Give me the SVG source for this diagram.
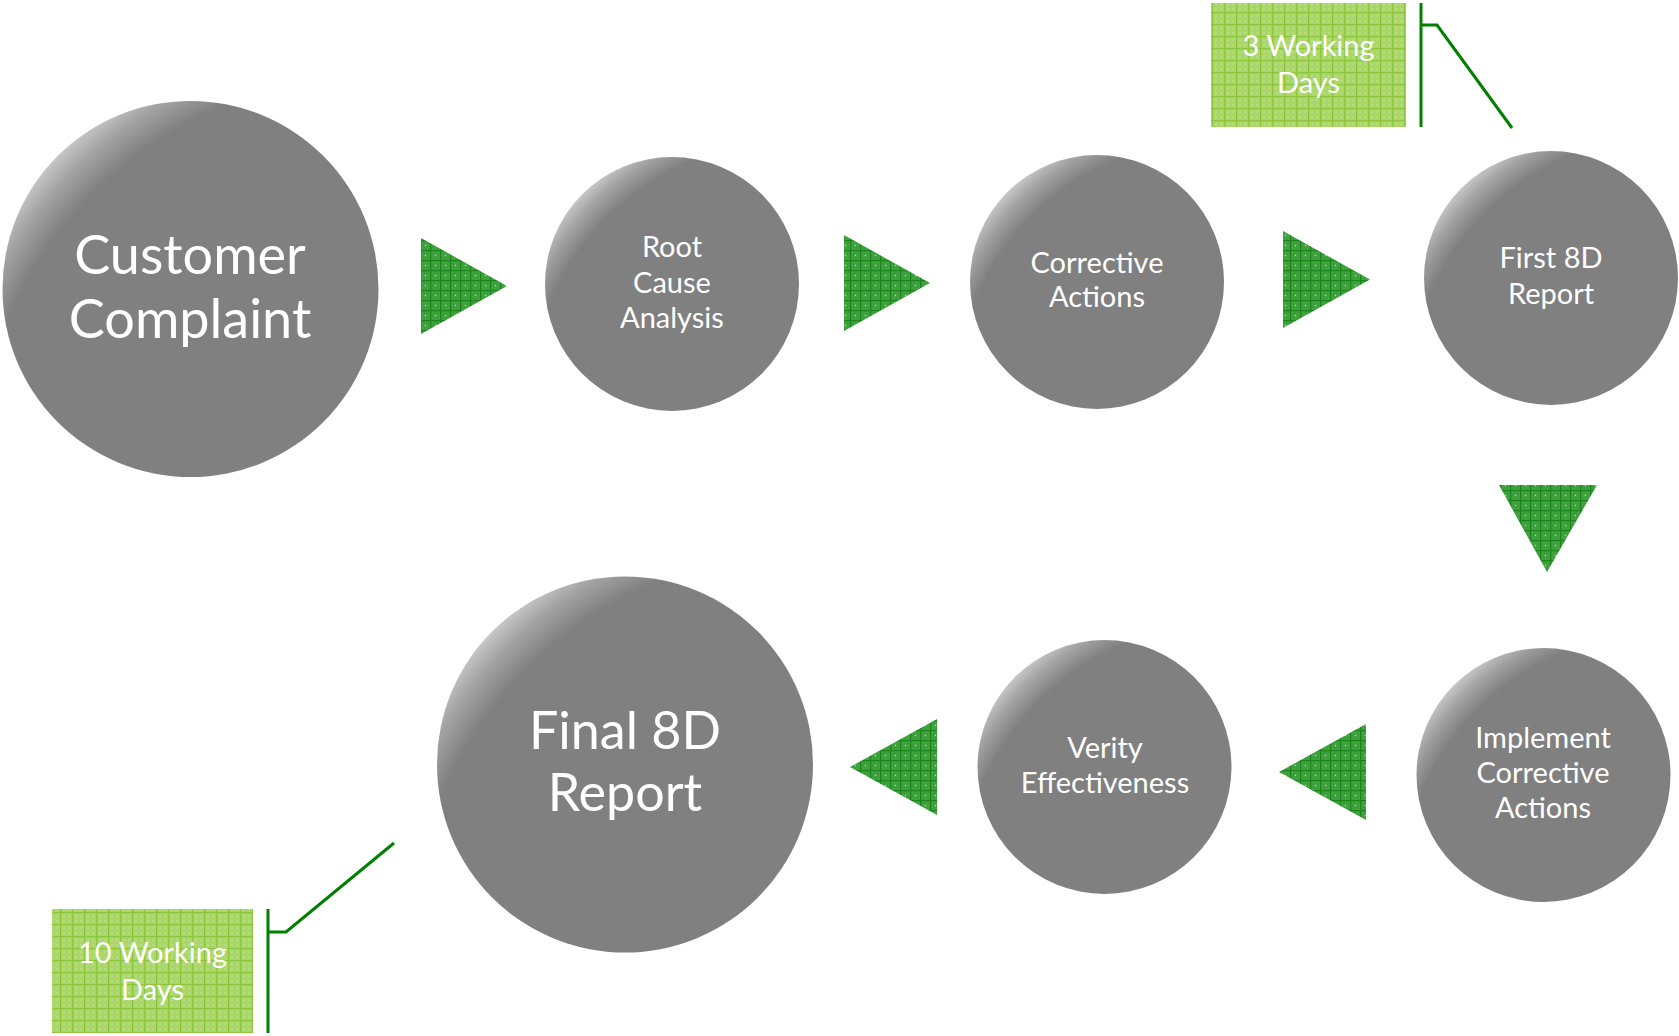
<svg xmlns="http://www.w3.org/2000/svg" width="1679" height="1036" viewBox="0 0 1679 1036">
  <defs>
    <!-- glossy grey ball: light rim at the upper left -->
    <radialGradient id="ball" cx="1" cy="1" r="1.21" fx="1" fy="1">
      <stop offset="0.885" stop-color="#808080"/>
      <stop offset="0.95" stop-color="#a3a3a3"/>
      <stop offset="1" stop-color="#c8c8c8"/>
    </radialGradient>
    <!-- textured green for the flow arrows -->
    <pattern id="arrowFill" width="10" height="10" patternUnits="userSpaceOnUse">
      <rect width="10" height="10" fill="#40a040"/>
      <path d="M0 0.6H10M0.6 0V10" stroke="#1a861a" stroke-width="1.3"/>
      <circle cx="5.5" cy="5.5" r="0.7" fill="#b9e2b9"/>
    </pattern>
    <!-- textured light green for the duration tags -->
    <pattern id="tagFill" width="12" height="12" patternUnits="userSpaceOnUse">
      <rect width="12" height="12" fill="#aad66a"/>
      <path d="M0 0.6H12M0.6 0V12" stroke="#8cc63e" stroke-width="1.2"/>
      <circle cx="4" cy="4" r="0.6" fill="#e4f4cc"/>
      <circle cx="9" cy="4" r="0.6" fill="#e4f4cc"/>
      <circle cx="4" cy="9" r="0.6" fill="#e4f4cc"/>
      <circle cx="9" cy="9" r="0.6" fill="#e4f4cc"/>
    </pattern>
    <style>
      .ball { fill: url(#ball); }
      .lbl { fill: #ffffff; font-family: Lato, "Open Sans", sans-serif; text-anchor: middle; }
      .big { font-size: 53px; }
      .small { font-size: 29px; }
      .tagtxt { font-size: 29px; }
      .arrow { fill: url(#arrowFill); }
      .tag { fill: url(#tagFill); }
      .bracket { fill: none; stroke: #008000; stroke-width: 3; }
    </style>
  </defs>

  <rect width="1679" height="1036" fill="#ffffff"/>

  <!-- flow arrows -->
  <g id="connectors">
    <polygon class="arrow" points="421,238 421,334 507,286"/>
    <polygon class="arrow" points="844,235 844,331 930,283"/>
    <polygon class="arrow" points="1283,231 1283,328 1370,279.5"/>
    <polygon class="arrow" points="1499,485 1597,485 1547,572"/>
    <polygon class="arrow" points="1366,724 1366,820 1279,772"/>
    <polygon class="arrow" points="937,719 937,815 850,767"/>
  </g>

  <g id="customer-complaint">
    <circle class="ball" cx="190.5" cy="289" r="188"/>
    <text class="lbl big" x="190" y="274" style="font-size:54px">Customer</text>
    <text class="lbl big" x="190" y="338" style="font-size:54px">Complaint</text>
  </g>

  <g id="root-cause-analysis">
    <circle class="ball" cx="672" cy="284" r="127"/>
    <text class="lbl small" x="672" y="257">Root</text>
    <text class="lbl small" x="672" y="293">Cause</text>
    <text class="lbl small" x="672" y="328">Analysis</text>
  </g>

  <g id="corrective-actions">
    <circle class="ball" cx="1097" cy="282" r="127"/>
    <text class="lbl small" x="1097" y="273">Corrective</text>
    <text class="lbl small" x="1097" y="307">Actions</text>
  </g>

  <g id="first-8d-report">
    <circle class="ball" cx="1551" cy="278" r="127"/>
    <text class="lbl small" x="1551" y="268">First 8D</text>
    <text class="lbl small" x="1551" y="304">Report</text>
  </g>

  <g id="implement-corrective-actions">
    <circle class="ball" cx="1543.5" cy="775" r="127"/>
    <text class="lbl small" x="1543" y="748">Implement</text>
    <text class="lbl small" x="1543" y="783">Corrective</text>
    <text class="lbl small" x="1543" y="818">Actions</text>
  </g>

  <g id="verity-effectiveness">
    <circle class="ball" cx="1104.5" cy="767" r="127"/>
    <text class="lbl small" x="1105" y="758">Verity</text>
    <text class="lbl small" x="1105" y="793">Effectiveness</text>
  </g>

  <g id="final-8d-report">
    <circle class="ball" cx="625" cy="764.5" r="188"/>
    <text class="lbl big" x="625" y="749" style="font-size:52px">Final 8D</text>
    <text class="lbl big" x="625" y="811" style="font-size:52px">Report</text>
  </g>

  <g id="tag-3-days">
    <rect class="tag" x="1211" y="3" width="195" height="124"/>
    <text class="lbl tagtxt" x="1308.5" y="56">3 Working</text>
    <text class="lbl tagtxt" x="1308.5" y="93">Days</text>
    <path class="bracket" d="M1421 3V127M1421 25H1437L1512 128"/>
  </g>

  <g id="tag-10-days">
    <rect class="tag" x="52" y="909" width="201" height="124"/>
    <text class="lbl tagtxt" x="152.5" y="963">10 Working</text>
    <text class="lbl tagtxt" x="152.5" y="1000">Days</text>
    <path class="bracket" d="M268 909V1033M268 932H286L394 843"/>
  </g>
</svg>
